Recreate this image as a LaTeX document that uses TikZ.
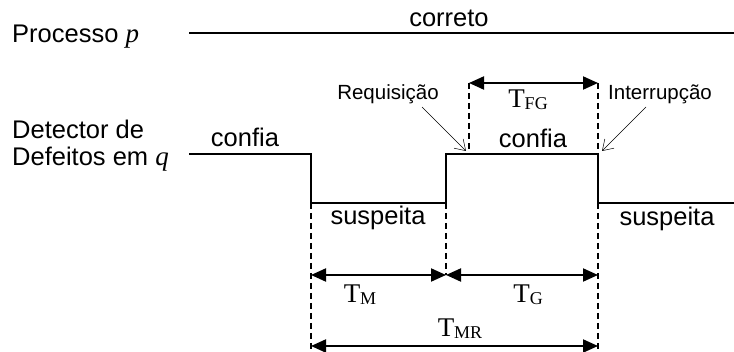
\documentclass[tikz,border=0pt]{standalone}
\usepackage{fontspec}
\setmainfont{Liberation Sans}
\newfontfamily\tmsfont{Liberation Serif}
\usetikzlibrary{arrows.meta}
\newcommand{\Tsub}[1]{{\tmsfont\fontsize{27}{27}\selectfont T\raisebox{-2pt}{\fontsize{18}{18}\selectfont #1}}}
\newcommand{\ivar}[1]{{\tmsfont\itshape\fontsize{27}{27}\selectfont #1}}
\begin{document}
\begin{tikzpicture}[x=1pt,y=-1pt,
  big/.style={font=\fontsize{25.5}{28}\selectfont, inner sep=0pt, anchor=base},
  small/.style={font=\fontsize{20.5}{22}\selectfont, inner sep=0pt, anchor=base},
  tlabel/.style={inner sep=0pt, anchor=base},
  sig/.style={line width=1.6pt},
  guide/.style={line width=1.3pt, dash pattern=on 6pt off 4pt},
  dim/.style={line width=2pt, {Triangle[length=15pt,width=13pt]}-{Triangle[length=15pt,width=13pt]}, shorten <=0pt, shorten >=0pt},
  pointer/.style={line width=0.5pt, -{Straight Barb[length=10pt,width=13pt]}}
]
\useasboundingbox (0,0) rectangle (734,352);

% labels on the left
\node[big, anchor=base west] (lblP) at (12,43) {Processo \ivar{p}};
\node[big, anchor=base west] (lblD1) at (12,139) {Detector de};
\node[big, anchor=base west] (lblD2) at (12,166) {Defeitos em \ivar{q}};

% process line
\coordinate (p0) at (189,33);
\coordinate (p1) at (734,33);
\draw[sig] (p0) -- (p1);
\node[big] (correto) at (449,27) {correto};

% detector waveform
\coordinate (w0) at (189,154);
\coordinate (w1) at (311,154);
\coordinate (w2) at (311,203);
\coordinate (w3) at (446,203);
\coordinate (w4) at (446,154);
\coordinate (w5) at (598,154);
\coordinate (w6) at (598,203);
\coordinate (w7) at (734,203);
\draw[sig] (w0) -- (w1) -- (w2) -- (w3) -- (w4) -- (w5) -- (w6) -- (w7);

\node[big] (confiaA) at (245,147) {confia};
\node[big] (confiaB) at (533,148) {confia};
\node[big] (suspA) at (378,225) {suspeita};
\node[big] (suspB) at (667,226) {suspeita};

% guide (dashed) lines
\coordinate (gA) at (311,350);
\coordinate (gB) at (446,275);
\coordinate (gCt) at (469,83);
\coordinate (gCb) at (469,154);
\coordinate (gDt) at (598,83);
\coordinate (gDb) at (598,350);
\coordinate (mA) at (311,275);
\coordinate (mD) at (598,275);
\coordinate (bA) at (311,346);
\coordinate (bD) at (598,346);
\draw[guide] (w2) -- (gA);
\draw[guide] (w3) -- (gB);
\draw[guide] (gCt) -- (gCb);
\draw[guide] (gDt) -- (w5);
\draw[guide] (w6) -- (gDb);

% dimension arrows
\draw[dim] (gCt) -- (gDt);
\draw[dim] (mA) -- (gB);
\draw[dim] (gB) -- (mD);
\draw[dim] (bA) -- (bD);

\node[tlabel] (tfg) at (528,108) {\Tsub{FG}};
\node[tlabel] (tm) at (360,303) {\Tsub{M}};
\node[tlabel] (tg) at (528,303) {\Tsub{G}};
\node[tlabel] (tmr) at (460,337) {\Tsub{MR}};

% event labels with pointers
\node[small] (req) at (388,100) {Requisição};
\node[small] (intr) at (660,100) {Interrupção};
\coordinate (reqtail) at (422,107);
\coordinate (reqtip) at (466,151);
\coordinate (intrtail) at (646,107);
\coordinate (intrtip) at (602,151);
\draw[pointer] (reqtail) -- (reqtip);
\draw[pointer] (intrtail) -- (intrtip);
\end{tikzpicture}
\end{document}
